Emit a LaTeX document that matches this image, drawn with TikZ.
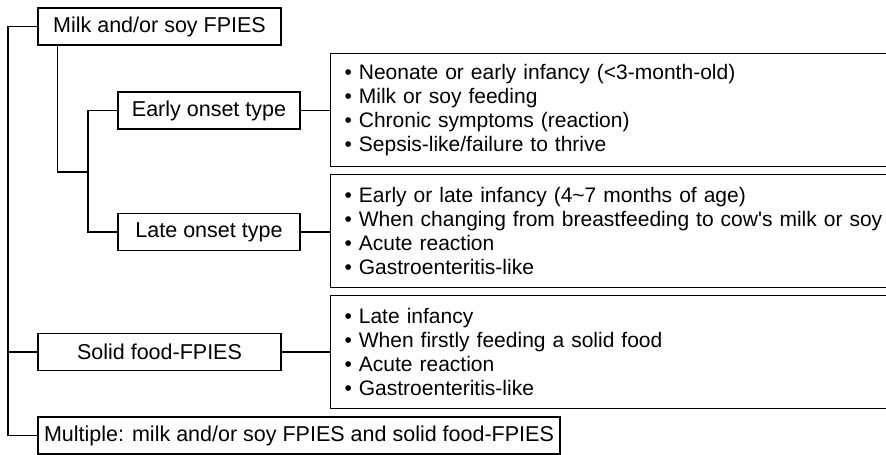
\documentclass[tikz,border=0pt]{standalone}
\usepackage{fontspec}
\setmainfont{Liberation Sans}
\usepackage{tikz}
\usetikzlibrary{positioning}

\begin{document}
\begin{tikzpicture}[
    x=1pt, y=-1pt,
    every node/.style={draw, line width=1.1pt, font=\fontsize{21.5}{24}\selectfont, minimum height=37pt, inner sep=0pt},
    typebox/.style={minimum width=182pt},
    mainbox/.style={minimum width=243pt},
    listbox/.style={anchor=west, align=left, text width=560pt, inner xsep=14pt, minimum height=113pt, font=\fontsize{21}{24}\selectfont},
    link/.style={line width=1.1pt}
]
\useasboundingbox (0,0) rectangle (886,455);
\clip (0,0) rectangle (886,455);

\node[mainbox] (milk) at (159.5,26.5) {Milk and/or soy FPIES};
\node[typebox] (early) at (209,110.5) {Early onset type};
\node[typebox] (late) at (209,232) {Late onset type};
\node[mainbox] (solid) at (159.5,352) {Solid food-FPIES};
\node[minimum width=522pt] (multi) at (299,435.5) {Multiple: milk and/or soy FPIES and solid food-FPIES};

\node[listbox] (earlylist) at (330,110) {\textbullet\ Neonate or early infancy (<3-month-old)\\
    \textbullet\ Milk or soy feeding\\
    \textbullet\ Chronic symptoms (reaction)\\
    \textbullet\ Sepsis-like/failure to thrive};
\node[listbox] (latelist) at (330,231) {\textbullet\ Early or late infancy (4\textasciitilde7 months of age)\\
    \textbullet\ When changing from breastfeeding to cow\textquotesingle s milk or soy\\
    \textbullet\ Acute reaction\\
    \textbullet\ Gastroenteritis-like};
\node[listbox] (solidlist) at (330,352) {\textbullet\ Late infancy\\
    \textbullet\ When firstly feeding a solid food\\
    \textbullet\ Acute reaction\\
    \textbullet\ Gastroenteritis-like};

\coordinate (trunk) at (8,0);
\coordinate (fork) at (88,172);

\draw[link] (milk.west) -- (milk.west -| trunk) -- (multi.west -| trunk) -- (multi.west);
\draw[link] (solid.west -| trunk) -- (solid.west);
\draw[link] ([xshift=20pt]milk.south west) |- (fork);
\draw[link] (early.west) -| (fork) |- (late.west);
\draw[link] (early.east) -- (early.east -| earlylist.west);
\draw[link] (late.east) -- (late.east -| latelist.west);
\draw[link] (solid.east) -- (solidlist.west);
\end{tikzpicture}
\end{document}
